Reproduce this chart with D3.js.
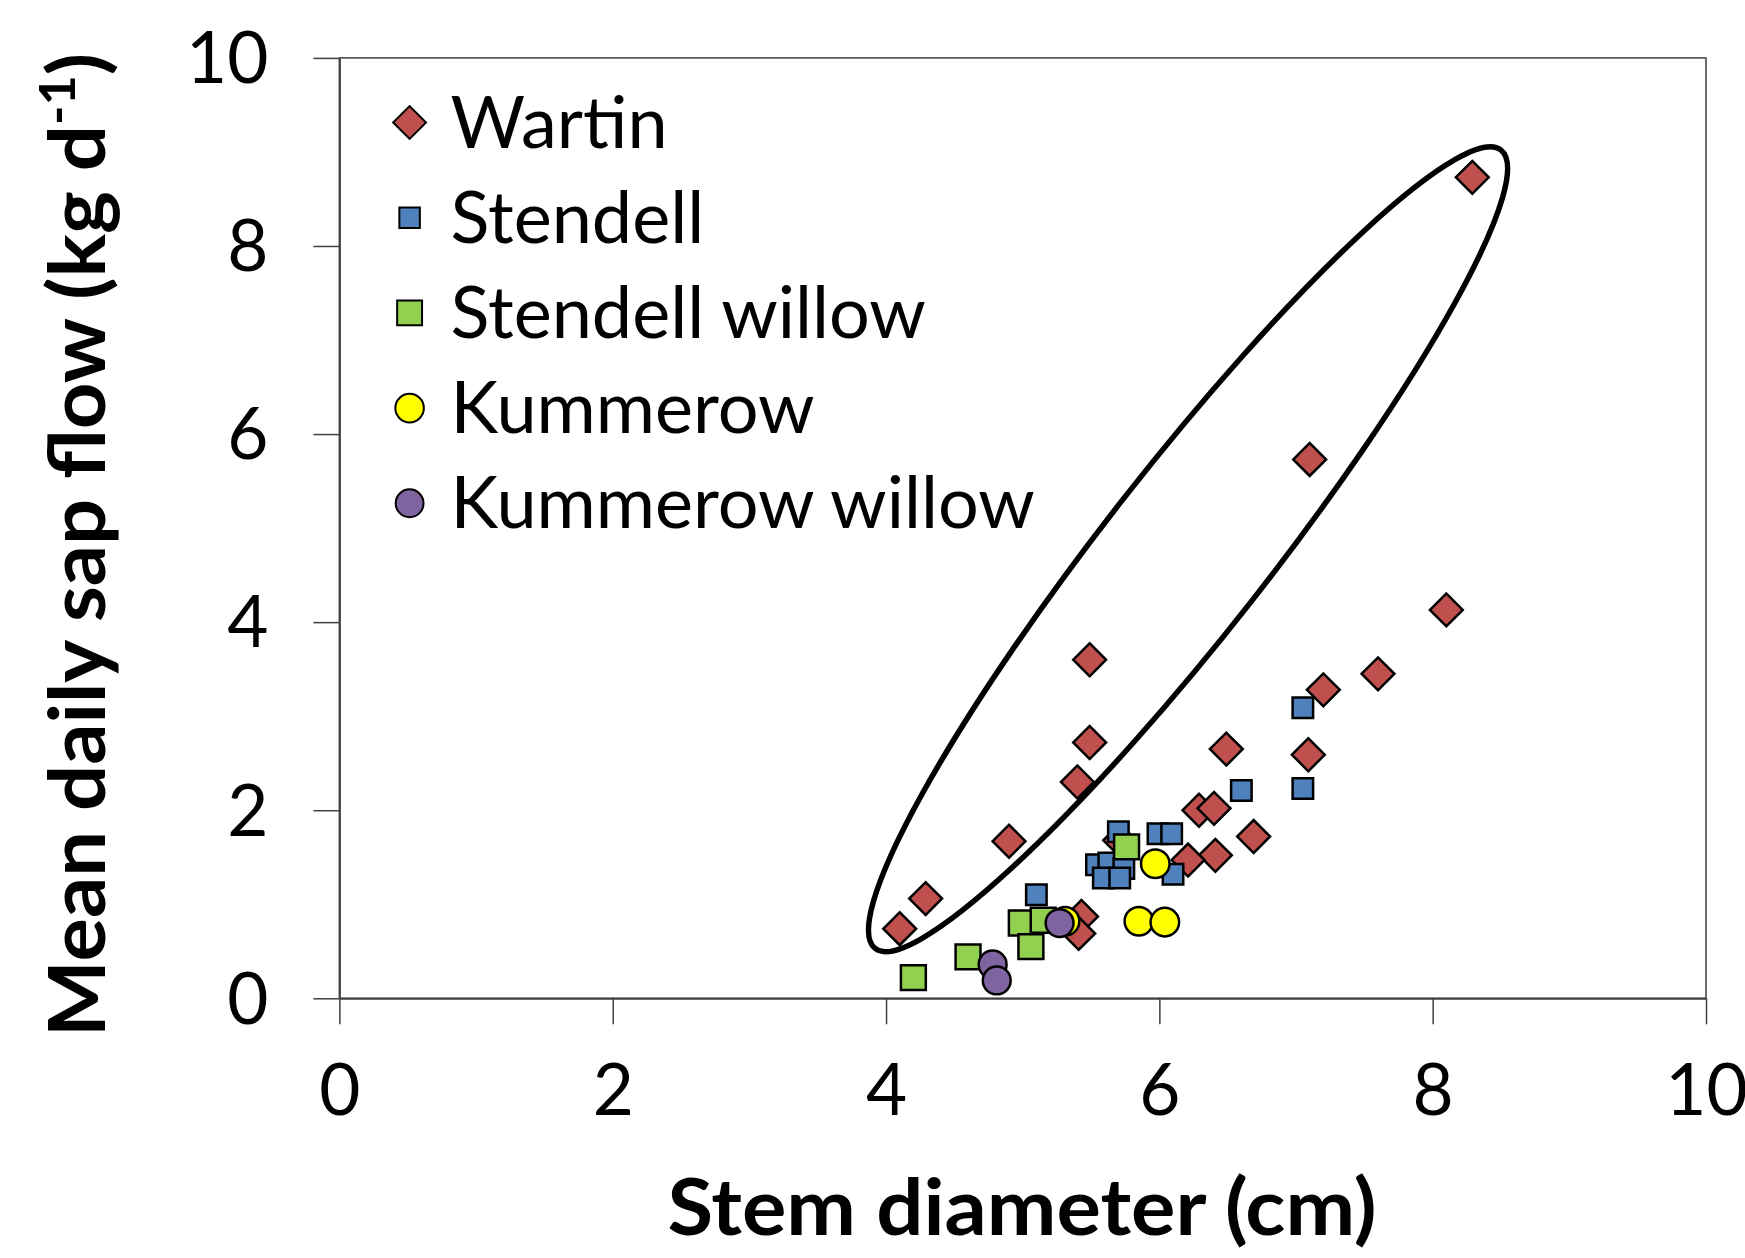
<!DOCTYPE html>
<html>
<head>
<meta charset="utf-8">
<script src="https://cdn.jsdelivr.net/npm/d3@7"></script>
<style>
  body { margin: 0; background: #fff; }
  text { font-family: Lato, "Open Sans", sans-serif; fill: #000; }
</style>
</head>
<body>
<div id="scatter"></div>
<script>
// data (stem diameter cm, mean daily sap flow kg/d)
var wartin = [
  [8.29, 8.73], [7.10, 5.73], [8.10, 4.13], [7.60, 3.45], [7.20, 3.28],
  [7.09, 2.59], [5.49, 3.60], [5.49, 2.72], [5.40, 2.30], [6.49, 2.65],
  [6.29, 2.00], [6.40, 2.02], [6.69, 1.72], [6.41, 1.52], [6.21, 1.47],
  [4.90, 1.67], [4.29, 1.06], [4.10, 0.74], [5.43, 0.87], [5.41, 0.69],
  [5.71, 1.68]
];
var stendell = [
  [5.10, 1.10], [5.70, 1.77], [5.99, 1.75], [6.09, 1.75], [5.54, 1.42],
  [5.63, 1.44], [5.74, 1.38], [5.59, 1.28], [5.71, 1.28], [6.10, 1.32],
  [6.60, 2.21], [7.05, 2.23], [7.05, 3.09]
];
var stendellWillow = [
  [4.20, 0.22], [4.60, 0.44], [4.99, 0.80], [5.15, 0.83], [5.06, 0.55],
  [5.76, 1.61]
];
var kummerow = [[5.31, 0.82], [5.97, 1.43], [5.85, 0.82], [6.04, 0.81]];
var kummerowWillow = [[4.78, 0.36], [4.81, 0.19], [5.27, 0.80]];

var seriesNames = ["Wartin", "Stendell", "Stendell willow", "Kummerow", "Kummerow willow"];
var xTicks = [0, 2, 4, 6, 8, 10];
var yTicks = [0, 2, 4, 6, 8, 10];

// ellipse drawn round the upper group: ends of the long axis in data units
var ellipseEnds = [[3.92, 0.53], [8.50, 9.02]];

var width = 1745;
var height = 1258;
var plotLeft = 339.4, plotRight = 1706, plotTop = 57.9, plotBottom = 998.3;

var svg = d3.select("#scatter")
  .append("svg")
  .attr("width", width)
  .attr("height", height);

svg.append("rect").attr("width", width).attr("height", height).attr("fill", "#fff");

var xScale = d3.scaleLinear().domain([0, 10]).range([plotLeft, plotRight]);
var yScale = d3.scaleLinear().domain([0, 10]).range([plotBottom, plotTop]);

// plot frame
svg.append("rect")
  .attr("x", plotLeft).attr("y", plotTop)
  .attr("width", plotRight - plotLeft).attr("height", plotBottom - plotTop)
  .attr("fill", "none").attr("stroke", "#404040").attr("stroke-width", 1.5);

var xAxis = d3.axisBottom(xScale).tickValues(xTicks).tickSize(26).tickSizeOuter(0).tickPadding(40);
var yAxis = d3.axisLeft(yScale).tickValues(yTicks).tickSize(26).tickSizeOuter(0).tickPadding(45);

var gx = svg.append("g")
  .attr("transform", "translate(0," + plotBottom + ")")
  .call(xAxis);
var gy = svg.append("g")
  .attr("transform", "translate(" + plotLeft + ",0)")
  .call(yAxis);

[gx, gy].forEach(function(g) {
  g.select(".domain").attr("stroke", "#404040").attr("stroke-width", 2);
  g.selectAll(".tick line").attr("stroke", "#404040").attr("stroke-width", 1.5);
  g.selectAll(".tick text")
    .attr("font-size", 71)
    .attr("font-family", "Lato, sans-serif")
    .attr("fill", "#000");
});
gx.selectAll(".tick text").attr("dy", "0.71em");
gy.selectAll(".tick text").attr("dy", "0.35em");

// marker styles per series
var red = "#C0504D", blue = "#4F81BD", green = "#92D050", yellow = "#FFFF00", purple = "#8064A2";
var styles = [
  { data: wartin, type: d3.symbolSquare, size: 540, rot: 45, fill: red },
  { data: stendell, type: d3.symbolSquare, size: 420, rot: 0, fill: blue },
  { data: stendellWillow, type: d3.symbolSquare, size: 620, rot: 0, fill: green },
  { data: kummerow, type: d3.symbolCircle, size: 640, rot: 0, fill: yellow },
  { data: kummerowWillow, type: d3.symbolCircle, size: 610, rot: 0, fill: purple }
];

styles.forEach(function(s) {
  svg.append("g")
    .selectAll("path")
    .data(s.data)
    .enter()
    .append("path")
    .attr("d", d3.symbol().type(s.type).size(s.size))
    .attr("transform", function(d) {
      return "translate(" + xScale(d[0]) + "," + yScale(d[1]) + ") rotate(" + s.rot + ")";
    })
    .attr("fill", s.fill)
    .attr("stroke", "#000")
    .attr("stroke-width", 2.5);
});

// the ellipse
var e0 = [xScale(ellipseEnds[0][0]), yScale(ellipseEnds[0][1])];
var e1 = [xScale(ellipseEnds[1][0]), yScale(ellipseEnds[1][1])];
var eAngle = Math.atan2(e1[1] - e0[1], e1[0] - e0[0]) * 180 / Math.PI;
var eLen = Math.hypot(e1[0] - e0[0], e1[1] - e0[1]);
svg.append("ellipse")
  .attr("cx", 0).attr("cy", 0)
  .attr("rx", eLen / 2).attr("ry", 82)
  .attr("transform", "translate(" + (e0[0] + e1[0]) / 2 + "," + (e0[1] + e1[1]) / 2 + ") rotate(" + eAngle + ")")
  .attr("fill", "none")
  .attr("stroke", "#000")
  .attr("stroke-width", 5.5);

// legend
var legend = svg.append("g").attr("transform", "translate(409.6,122.5)");
styles.forEach(function(s, i) {
  var row = legend.append("g").attr("transform", "translate(0," + i * 95.2 + ")");
  row.append("path")
    .attr("d", d3.symbol().type(s.type).size(s.size))
    .attr("transform", "rotate(" + s.rot + ")")
    .attr("fill", s.fill)
    .attr("stroke", "#000")
    .attr("stroke-width", 2);
  row.append("text")
    .attr("x", 41)
    .attr("y", 25)
    .attr("font-size", 72)
    .text(seriesNames[i]);
});

// axis titles
svg.append("text")
  .attr("x", 1022)
  .attr("y", 1235)
  .attr("text-anchor", "middle")
  .attr("font-weight", "bold")
  .attr("font-size", 78)
  .attr("textLength", 709)
  .attr("lengthAdjust", "spacingAndGlyphs")
  .text("Stem diameter (cm)");

var yTitle = svg.append("text")
  .attr("transform", "translate(105,545) rotate(-90)")
  .attr("text-anchor", "middle")
  .attr("font-weight", "bold")
  .attr("font-size", 78)
  .attr("textLength", 984)
  .attr("lengthAdjust", "spacingAndGlyphs");
yTitle.append("tspan").text("Mean daily sap flow (kg d");
yTitle.append("tspan").attr("font-size", 50).attr("dy", -30).text("-1");
yTitle.append("tspan").attr("dy", 30).text(")");
</script>
</body>
</html>
